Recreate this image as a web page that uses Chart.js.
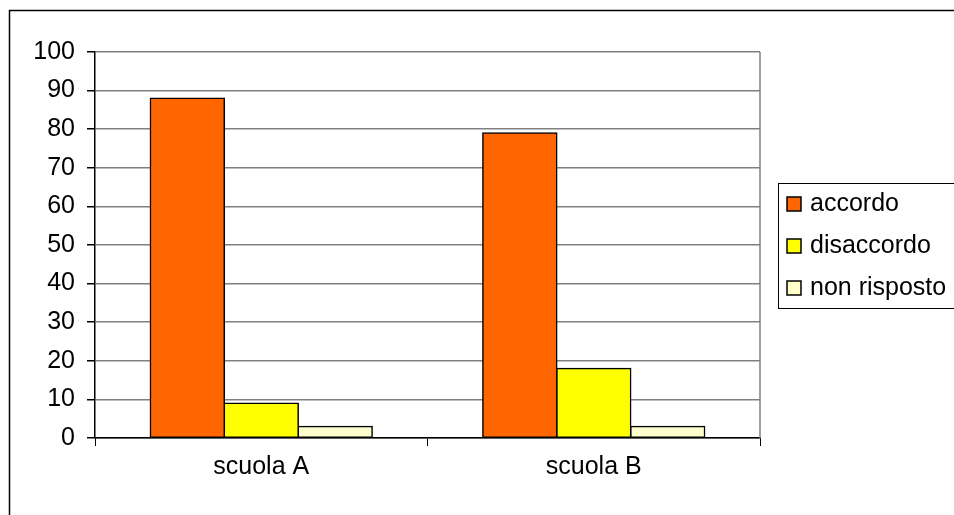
<!DOCTYPE html>
<html lang="it">

<head>
    <meta charset="UTF-8">
    <title>accordo / disaccordo</title>
    <style>
        html, body { margin: 0; padding: 0; background: #fff; }
        #wrap { width: 954px; height: 515px; }
    </style>
</head>

<body>
    <div id="wrap"><canvas id="myChart" width="954" height="515"></canvas></div>
    <script src="https://cdn.jsdelivr.net/npm/chart.js"></script>
    <script>
        // dati
        const scuole = ['scuola A', 'scuola B'];
        const accordo = [88, 79];
        const disaccordo = [9, 18];
        const nonRisposto = [3, 3];
        const yTicks = [0, 10, 20, 30, 40, 50, 60, 70, 80, 90, 100];

        const FONT = { family: 'Liberation Sans, Arial, sans-serif', size: 25 };

        // cornice esterna + bordo destro area del grafico
        const cornice = {
            id: 'cornice',
            afterDraw(chart) {
                const c = chart.ctx;
                const a = chart.chartArea;
                c.save();
                c.strokeStyle = '#000';
                c.lineWidth = 1.5;
                c.strokeRect(9.5, 10.5, 960, 520);
                c.strokeStyle = '#808080';
                c.lineWidth = 1.5;
                c.beginPath();
                c.moveTo(a.right, a.top);
                c.lineTo(a.right, a.bottom);
                c.stroke();
                c.restore();
            }
        };

        // legenda stile Excel a destra
        const legenda = {
            id: 'legenda',
            afterDraw(chart) {
                const c = chart.ctx;
                c.save();
                c.strokeStyle = '#000';
                c.lineWidth = 1;
                c.strokeRect(778.5, 183.5, 200, 125);
                c.font = FONT.size + 'px ' + FONT.family;
                c.textBaseline = 'middle';
                c.fillStyle = '#000';
                chart.data.datasets.forEach(function (ds, i) {
                    const y = 204 + i * 42;
                    c.fillStyle = ds.backgroundColor;
                    c.fillRect(787, y - 7, 14, 14);
                    c.strokeStyle = '#000';
                    c.lineWidth = 1.5;
                    c.strokeRect(787, y - 7, 14, 14);
                    c.fillStyle = '#000';
                    c.fillText(ds.label, 810, y);
                });
                c.restore();
            }
        };

        const ctx = document.getElementById('myChart');
        const mychart = new Chart(ctx, {
            type: 'bar',
            data: {
                labels: scuole,
                datasets: [
                    { label: 'accordo', data: accordo, backgroundColor: '#FF6600' },
                    { label: 'disaccordo', data: disaccordo, backgroundColor: '#FFFF00' },
                    { label: 'non risposto', data: nonRisposto, backgroundColor: '#FFFFCC' }
                ].map(function (d) {
                    d.borderColor = '#000';
                    d.borderWidth = 1.5;
                    d.borderSkipped = false;
                    d.inflateAmount = 0.75;
                    d.categoryPercentage = 0.667;
                    d.barPercentage = 1;
                    return d;
                })
            },
            options: {
                responsive: false,
                animation: false,
                devicePixelRatio: 1,
                layout: { padding: { top: 52, right: 194, left: 0, bottom: 0 } },
                plugins: {
                    legend: { display: false },
                    tooltip: { enabled: false }
                },
                scales: {
                    x: {
                        grid: {
                            offset: true,
                            drawOnChartArea: false,
                            drawTicks: true,
                            tickLength: 8,
                            color: '#000',
                            lineWidth: 1
                        },
                        border: { color: '#000', width: 1.5 },
                        ticks: { color: '#000', font: FONT, padding: 6 },
                        afterFit(s) { s.height = 515 - 438; }
                    },
                    y: {
                        min: 0,
                        max: 100,
                        afterBuildTicks(s) { s.ticks = yTicks.map(v => ({ value: v })); },
                        grid: {
                            color: '#808080',
                            lineWidth: 1.5,
                            tickLength: 8,
                            tickColor: '#000'
                        },
                        border: { color: '#000', width: 1.5 },
                        ticks: { color: '#000', font: FONT, padding: 12 },
                        afterFit(s) { s.width = 95; }
                    }
                }
            },
            plugins: [cornice, legenda]
        });
    </script>
</body>

</html>
